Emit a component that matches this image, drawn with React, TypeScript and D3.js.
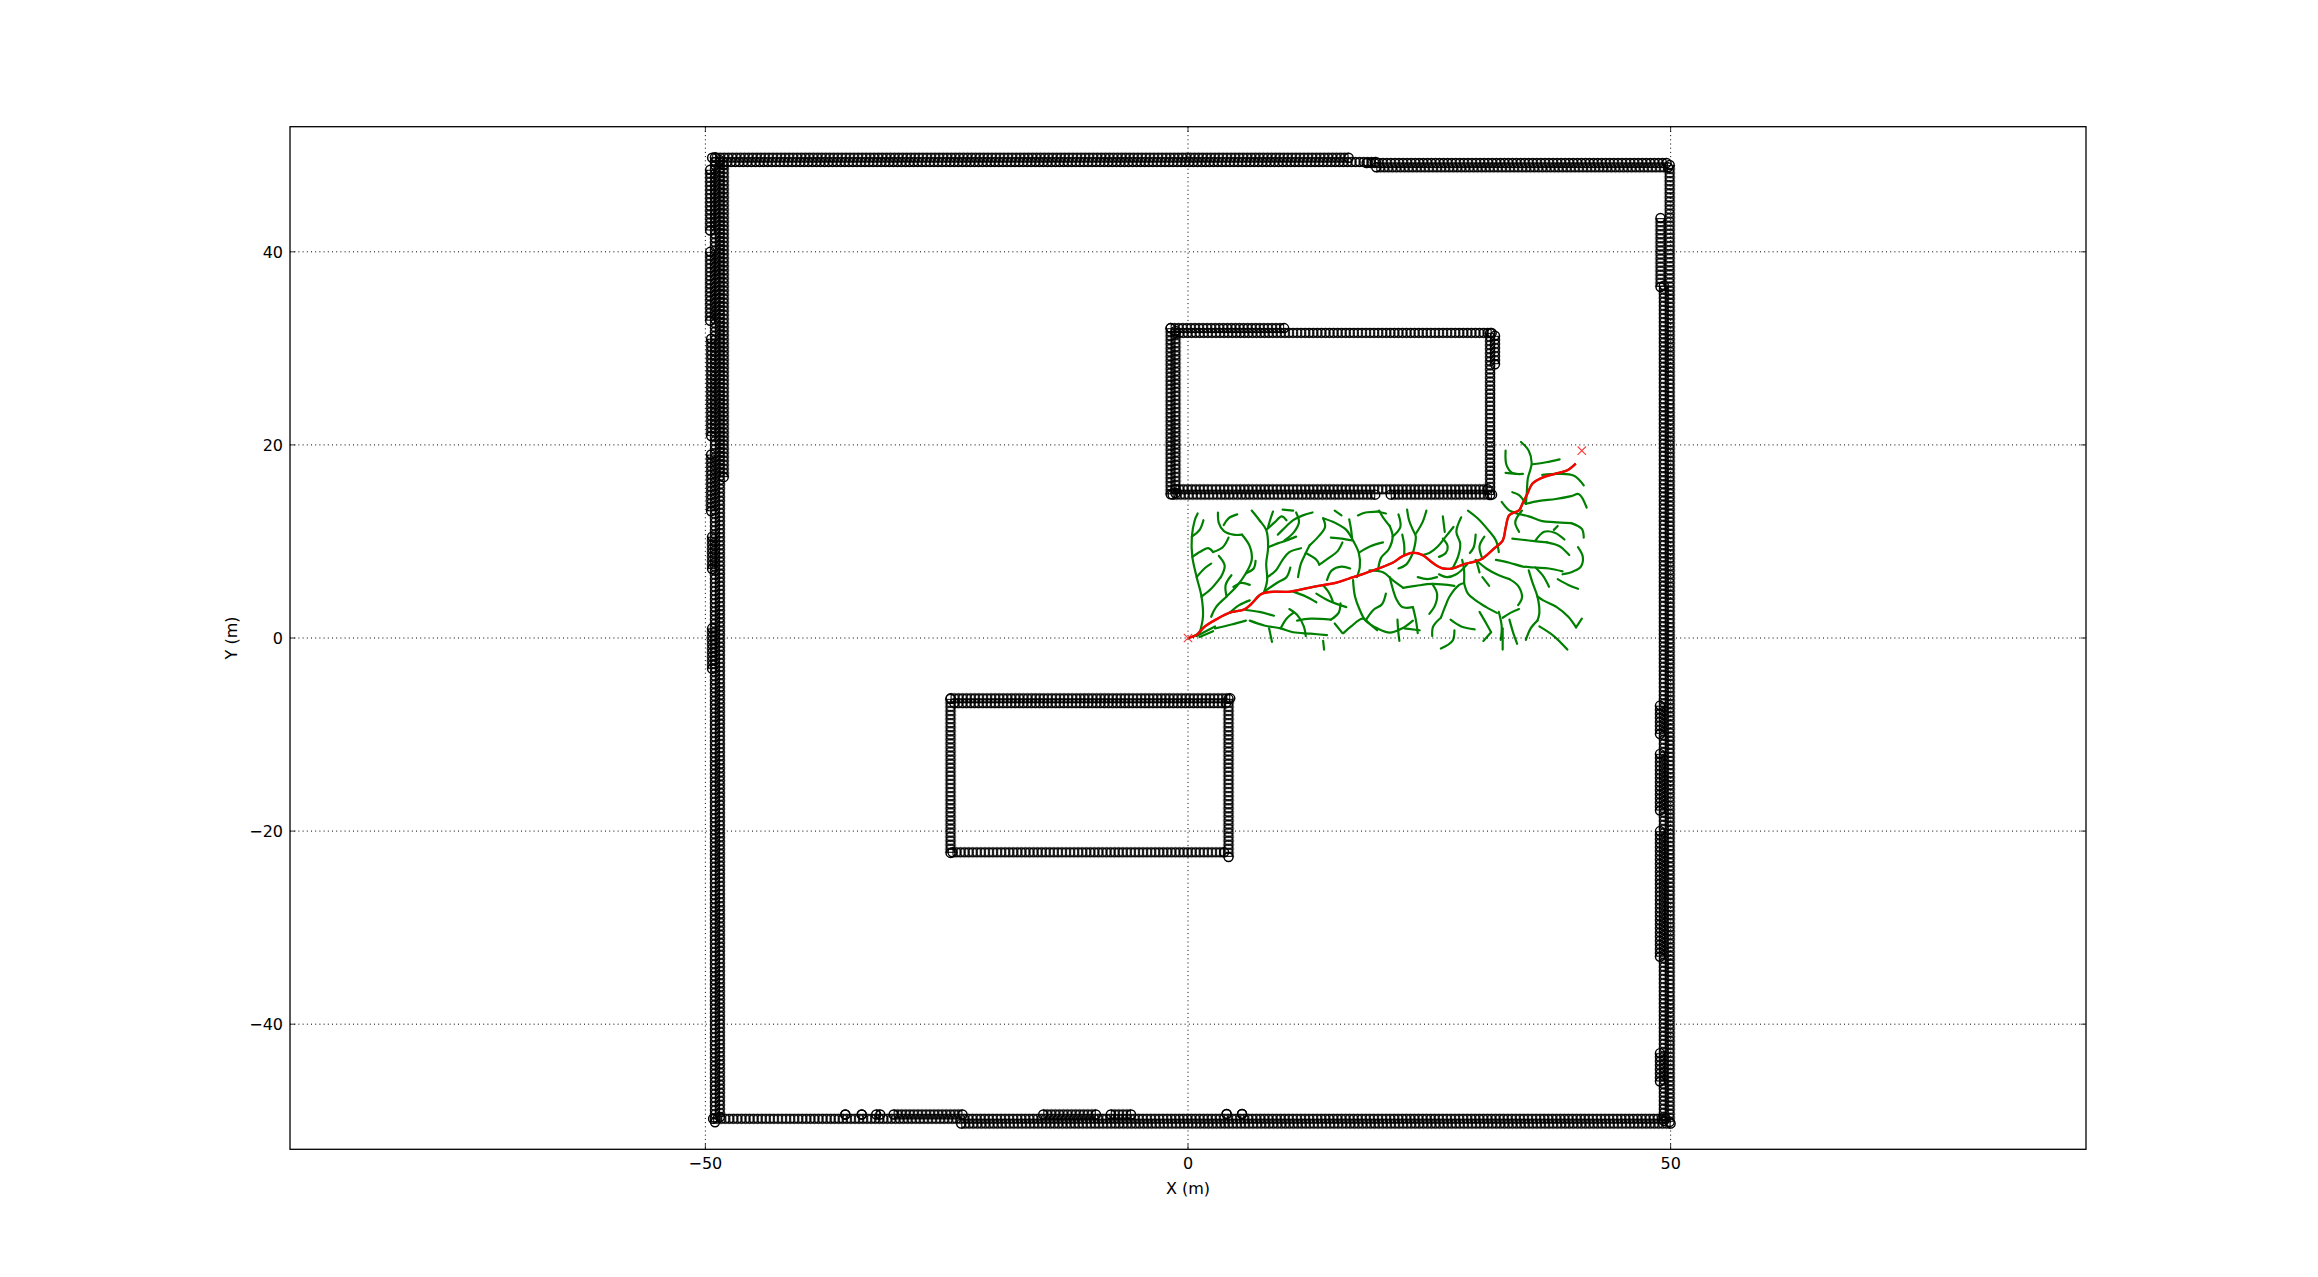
import React from 'react';
import * as d3 from 'd3';

const width = 2318;
const height = 1277;
const plot = { left: 290, right: 2086, top: 126.7, bottom: 1149.3 };

const xDomain = [-93.03, 93.03];
const yDomain = [-52.96, 52.96];
const xTicks = [-50, 0, 50];
const yTicks = [-40, -20, 0, 20, 40];

// obstacle rows of circle markers: [y, xStart, xEnd]
const outerRows = [
  [49.75, -49.3, 16.5],
  [49.3, -49.0, 19.6],
  [49.2, 18.5, 49.5],
  [48.75, 19.5, 49.6],
  [-49.8, -49.2, 49.3],
  [-50.3, -23.5, 49.8],
  [-49.35, -35.5, -35.5],
  [-49.35, -33.8, -33.8],
  [-49.35, -32.3, -31.8],
  [-49.35, -30.5, -23.5],
  [-49.35, -15.0, -9.5],
  [-49.35, -8.0, -6.0],
  [-49.3, 4.0, 4.0],
  [-49.3, 5.6, 5.6],
];
// obstacle columns of circle markers: [x, yStart, yEnd]
const outerCols = [
  [-48.5, -49.8, 49.5],
  [-49.0, -50.0, 49.8],
  [-48.1, 16.5, 49.0],
  [-49.5, 42, 48.5],
  [-49.5, 33, 40],
  [-49.4, 21, 31],
  [-49.4, 13, 19],
  [-49.3, 7, 10.5],
  [-49.3, -3, 1],
  [49.9, -50.3, 49.0],
  [49.3, -50.0, 36.5],
  [48.95, 36.5, 43.5],
  [48.9, -46, -43],
  [48.9, -33, -20],
  [48.9, -18, -12],
  [48.9, -10, -7],
];
const upperBlockRows = [
  [32.1, -1.8, 10.0],
  [31.6, -1.3, 31.3],
  [15.4, -1.3, 31.2],
  [14.85, -1.6, 19.3],
  [14.85, 21.0, 31.4],
];
const upperBlockCols = [
  [-1.8, 14.9, 32.1],
  [-1.3, 15.0, 31.8],
  [31.3, 14.8, 31.6],
  [31.8, 28.2, 31.3],
];
const lowerBlockRows = [
  [-6.25, -24.6, 4.2],
  [-6.75, -24.2, 4.0],
  [-22.2, -24.4, 3.8],
];
const lowerBlockCols = [
  [-24.6, -22.2, -6.3],
  [4.2, -22.7, -6.3],
];

const startPoint = [0, 0];
const goalPoint = [40.8, 19.4];

const pathPoints = [
  [0, 0], [0.86, 0.31], [1.72, 1.17], [2.93, 1.93], [4.31, 2.62], [5.86, 2.97],
  [6.55, 3.52], [7.59, 4.55], [8.79, 4.79], [10.52, 4.79], [12.24, 5.14], [13.97, 5.48],
  [15.34, 5.72], [16.72, 6.17], [18.1, 6.62], [19.48, 7.1], [21.2, 7.79], [22.24, 8.48],
  [23.28, 8.83], [24.31, 8.59], [25.34, 7.79], [26.38, 7.21], [27.41, 7.21], [28.62, 7.66],
  [29.66, 7.9], [30.52, 8.24], [31.72, 9.28], [32.59, 10.07], [32.93, 11.52], [33.28, 12.72],
  [34.31, 13.24], [34.66, 13.93], [35.17, 14.97], [35.69, 16.0], [36.72, 16.62], [38.1, 17.03],
  [39.31, 17.38], [40.17, 18.07],
];

const treeBranches = [
  [[1.2, 0.5], [1.55, 2.2], [1.4, 4.3], [0.9, 6.3], [0.45, 8.4], [0.4, 10.5], [0.7, 12.2], [1.0, 12.9]],
  [[1.4, 4.3], [2.4, 5.1], [3.4, 6.3]],
  [[0.9, 6.3], [1.7, 7.2], [2.4, 7.7]],
  [[0.45, 8.4], [1.2, 8.9], [2.1, 9.3], [2.6, 8.9]],
  [[3.1, 13.0], [3.2, 11.9], [3.7, 11.1], [4.7, 10.7], [5.6, 10.7]],
  [[5.1, 12.8], [4.2, 12.4], [3.7, 11.7]],
  [[5.6, 10.7], [6.4, 9.5], [6.6, 8.1], [6.0, 6.7], [5.0, 5.3], [4.0, 4.3], [2.9, 3.2], [2.4, 2.2]],
  [[4.7, 5.3], [5.5, 5.7], [6.4, 5.5]],
  [[6.6, 13.2], [7.4, 12.2], [8.1, 11.2], [8.3, 9.4], [8.1, 7.7], [8.2, 6.0], [7.9, 4.8]],
  [[8.1, 11.2], [9.0, 12.0], [9.7, 12.6], [10.2, 12.2]],
  [[8.3, 9.4], [9.3, 9.8], [10.2, 10.1], [11.2, 10.5]],
  [[8.2, 6.3], [9.1, 7.0], [9.8, 8.1], [10.5, 8.9], [11.7, 9.3]],
  [[8.8, 13.1], [8.5, 12.2], [8.3, 11.5]],
  [[9.8, 13.3], [10.9, 13.2]],
  [[12.9, 13.0], [11.9, 12.7], [10.9, 12.2], [9.8, 11.2], [9.3, 10.7]],
  [[12.2, 8.8], [13.3, 8.1], [13.6, 7.6]],
  [[11.4, 6.3], [11.7, 7.7], [12.2, 8.8], [12.6, 9.6]],
  [[14.0, 12.4], [15.3, 11.9], [16.4, 11.2], [17.1, 10.1], [17.7, 8.8], [17.8, 7.4], [17.5, 6.3]],
  [[16.7, 12.3], [16.9, 11.2], [17.0, 10.3]],
  [[14.8, 10.4], [15.9, 10.3], [17.0, 10.1]],
  [[17.6, 12.7], [18.4, 13.0], [19.6, 13.1]],
  [[17.8, 8.9], [18.9, 9.5], [20.2, 9.9]],
  [[15.2, 13.2], [15.9, 12.7]],
  [[22.7, 13.3], [22.9, 12.2], [23.3, 11.2], [23.6, 10.5], [23.3, 8.8]],
  [[24.7, 13.2], [24.3, 12.0], [23.6, 10.8]],
  [[22.2, 10.7], [22.4, 9.6], [22.4, 8.6]],
  [[26.4, 12.6], [26.6, 11.0]],
  [[27.5, 11.5], [26.7, 10.5], [25.9, 9.5], [25.0, 8.8], [24.3, 8.6]],
  [[26.4, 10.3], [26.9, 9.5], [26.7, 8.8], [26.0, 8.4]],
  [[34.5, 20.3], [35.3, 19.4], [35.6, 18.1], [35.2, 16.5], [35.1, 15.1], [35.0, 13.9]],
  [[32.9, 19.4], [33.0, 17.9], [33.6, 17.1], [34.7, 17.0]],
  [[32.9, 17.1], [34.0, 17.0]],
  [[35.7, 18.0], [37.1, 18.2], [38.5, 18.5]],
  [[36.7, 16.9], [38.4, 17.0], [40.0, 16.8], [41.0, 15.8]],
  [[32.5, 14.1], [33.3, 13.2], [34.0, 13.0]],
  [[35.0, 13.9], [36.4, 14.2], [38.1, 14.4], [39.7, 14.7], [40.5, 14.9], [41.3, 13.5]],
  [[34.0, 12.9], [35.3, 12.6], [36.7, 12.1], [37.9, 12.0], [39.7, 11.9]],
  [[37.9, 11.2], [38.3, 11.6]],
  [[29.0, 13.2], [30.0, 12.4], [31.0, 11.3], [31.9, 10.1], [32.2, 8.9]],
  [[29.8, 10.7], [29.6, 9.4], [29.2, 8.8]],
  [[33.6, 10.3], [35.3, 10.1], [37.2, 9.9]],
  [[40.4, 9.4], [40.9, 8.4], [40.7, 7.4], [39.9, 6.9], [38.8, 6.6]],
  [[31.9, 8.1], [33.3, 7.8], [34.7, 7.4], [36.0, 7.3], [37.4, 7.2], [38.8, 6.9]],
  [[35.3, 7.0], [35.7, 5.7], [36.2, 4.3], [36.4, 2.6], [36.2, 1.8]],
  [[36.2, 4.3], [36.8, 3.9], [38.2, 3.2], [39.4, 2.2], [40.2, 1.1]],
  [[36.4, 1.2], [37.9, 0.2], [39.3, -1.2]],
  [[38.3, 6.1], [39.4, 5.5], [40.4, 5.1]],
  [[29.8, 8.1], [30.9, 7.2], [32.2, 6.5], [33.3, 6.1]],
  [[28.6, 5.7], [29.0, 4.6], [29.8, 3.9], [30.9, 3.2], [32.0, 2.6]],
  [[30.2, 2.7], [30.9, 1.5], [31.4, 0.6]],
  [[32.2, 2.7], [32.5, 1.2], [32.4, -0.2]],
  [[33.3, 1.9], [33.7, 0.5], [34.1, -0.6]],
  [[32.6, 2.1], [33.4, 2.6], [34.3, 3.0]],
  [[27.2, 1.9], [28.3, 1.2], [29.7, 0.9]],
  [[27.6, 0.8], [27.4, -0.3], [26.2, -1.1]],
  [[26.2, 2.1], [26.7, 3.4], [27.1, 4.3], [28.1, 5.5], [28.6, 5.7]],
  [[28.4, 8.1], [28.6, 7.0], [28.6, 5.7]],
  [[30.5, 6.3], [31.2, 5.4]],
  [[32.6, 1.0], [32.6, -1.2]],
  [[17.1, 6.0], [17.3, 4.3], [17.8, 2.9], [18.4, 1.8], [19.6, 1.0], [20.9, 0.55], [22.2, 1.0], [23.3, 1.8]],
  [[16.1, 0.5], [16.9, 1.2], [18.1, 2.0], [19.0, 1.3], [19.6, 0.8]],
  [[18.8, 7.0], [20.2, 6.8], [21.2, 6.0], [22.3, 5.2]],
  [[22.3, 5.2], [23.6, 5.4], [25.3, 5.6], [27.6, 5.4]],
  [[23.3, 3.2], [23.6, 1.9], [23.8, 0.5]],
  [[21.7, 1.9], [21.8, 0.5], [21.9, -0.3]],
  [[22.4, 1.0], [24.0, 0.8]],
  [[23.8, 6.3], [24.8, 6.1], [25.8, 6.3]],
  [[20.9, 6.3], [21.6, 4.0], [22.2, 3.2], [23.3, 3.2]],
  [[6.0, 2.9], [7.4, 2.7], [8.9, 2.3]],
  [[6.4, 1.8], [7.9, 1.3], [9.6, 1.0], [10.9, 0.6], [12.7, 0.45], [14.4, 0.3]],
  [[11.3, 1.8], [12.7, 2.0], [14.8, 1.9]],
  [[8.4, 1.0], [8.7, -0.4]],
  [[14.0, -0.3], [14.1, -1.2]],
  [[13.3, 4.6], [14.7, 3.8], [16.4, 3.2]],
  [[10.9, 4.8], [12.2, 4.3], [13.3, 3.7]],
  [[15.2, 1.5], [16.0, 0.5]],
  [[2.8, 1.0], [4.5, 1.4], [6.0, 1.8]],
  [[0.9, 0.2], [2.8, 1.2]],
  [[1.2, 0.1], [2.6, 0.7]],
  [[4.3, 2.6], [5.3, 3.4], [6.4, 3.9]],
  [[10.0, 10.1], [11.0, 11.0], [11.5, 12.0], [11.2, 13.0]],
  [[12.6, 9.6], [13.5, 10.5], [14.2, 11.5], [14.0, 12.4]],
  [[13.6, 7.6], [14.6, 8.3], [15.5, 9.0], [16.0, 9.9]],
  [[14.4, 6.0], [14.9, 7.0], [15.9, 7.4], [16.8, 7.2]],
  [[19.7, 7.1], [20.0, 8.3], [20.8, 9.2], [21.2, 10.5], [20.9, 11.6]],
  [[20.9, 11.6], [20.2, 12.5], [19.8, 13.2]],
  [[21.2, 10.5], [22.0, 11.5], [21.8, 12.8]],
  [[27.4, 7.2], [28.0, 8.5], [28.2, 9.8], [27.8, 11.0], [28.3, 12.5]],
  [[30.5, 8.2], [30.2, 9.5], [30.7, 10.5]],
  [[36.0, 10.1], [36.9, 11.0], [38.0, 10.9], [39.0, 10.2]],
  [[37.2, 9.9], [38.5, 9.5], [39.5, 8.6]],
  [[39.7, 11.9], [40.8, 11.3], [41.0, 10.4]],
  [[36.0, 7.3], [36.8, 6.4], [37.4, 5.3]],
  [[33.3, 6.1], [34.2, 5.4], [34.6, 4.2], [34.2, 3.4]],
  [[18.4, 1.8], [19.2, 2.9], [20.1, 3.5], [20.5, 4.6]],
  [[14.8, 1.9], [15.6, 2.6], [15.8, 3.6]],
  [[10.5, 3.0], [11.3, 2.4], [12.0, 1.2], [12.2, 0.2]],
  [[9.6, 1.0], [10.2, 2.0], [10.9, 2.6]],
  [[3.4, 6.3], [3.8, 7.5], [3.2, 8.5]],
  [[2.6, 8.9], [3.6, 9.4], [4.2, 10.4]],
  [[0.4, 10.5], [1.2, 11.2], [1.6, 12.2]],
  [[6.0, 6.7], [6.8, 7.2], [7.0, 8.0]],
  [[4.0, 4.3], [3.9, 5.5], [4.5, 6.5]],
  [[25.3, 5.6], [25.8, 4.6], [25.6, 3.4], [25.0, 2.5]],
  [[23.3, 8.8], [22.6, 7.6], [21.8, 7.2]],
  [[29.9, 7.9], [30.2, 6.8]],
  [[28.9, 7.6], [27.8, 6.6], [26.8, 6.3], [26.0, 6.6]],
  [[35.0, 13.9], [34.3, 14.8], [33.6, 15.1]],
  [[34.6, 13.2], [33.9, 12.0], [34.3, 11.0]],
  [[40.2, 1.1], [40.8, 2.0]],
  [[36.2, 1.8], [35.5, 1.0], [35.0, -0.2]],
  [[31.4, 0.6], [30.6, -0.3]],
  [[26.2, 2.1], [25.4, 1.2], [25.3, 0.2]],
  [[19.6, 13.1], [20.5, 12.9]],
  [[13.97, 5.48], [14.6, 4.7], [15.0, 3.8]],
  [[7.9, 4.8], [9.2, 5.7], [10.2, 6.3], [10.6, 7.3]],
];

const pitch = 0.42;
const ringR = 4.5;
const ringW = 1.45;
const band = 2 * (ringR + ringW) + 2;

export default function App() {
  const xs = d3.scaleLinear().domain(xDomain).range([plot.left, plot.right]);
  const ys = d3.scaleLinear().domain(yDomain).range([plot.bottom, plot.top]);
  const line = d3
    .line<number[]>()
    .x(d => xs(d[0]))
    .y(d => ys(d[1]))
    .curve(d3.curveCatmullRom.alpha(0.5));

  const rows = [...outerRows, ...upperBlockRows, ...lowerBlockRows];
  const cols = [...outerCols, ...upperBlockCols, ...lowerBlockCols];
  const offsets = [-2, -1, 0, 1, 2];

  const patterns: React.ReactNode[] = [];
  const runs: React.ReactNode[] = [];

  rows.forEach(([y, a, b], i) => {
    const cx0 = xs(Math.min(a, b));
    const p = xs(pitch) - xs(0);
    const n = Math.round((xs(Math.max(a, b)) - cx0) / p);
    const cy = ys(y);
    const id = `row${i}`;
    patterns.push(
      <pattern key={id} id={id} patternUnits="userSpaceOnUse" x={cx0 - p / 2} y={cy - band / 2} width={p} height={band}>
        {offsets.map(k => (
          <circle key={k} cx={p / 2 + k * p} cy={band / 2} r={ringR} fill="none" stroke="#000" strokeWidth={ringW} />
        ))}
      </pattern>
    );
    runs.push(
      <g key={id}>
        {n > 0 && <rect x={cx0} y={cy - band / 2} width={n * p} height={band} fill={`url(#${id})`} />}
        <circle cx={cx0} cy={cy} r={ringR} fill="none" stroke="#000" strokeWidth={ringW} />
        <circle cx={cx0 + n * p} cy={cy} r={ringR} fill="none" stroke="#000" strokeWidth={ringW} />
      </g>
    );
  });

  cols.forEach(([x, a, b], i) => {
    const top = ys(Math.max(a, b));
    const q = ys(0) - ys(pitch);
    const n = Math.round((ys(Math.min(a, b)) - top) / q);
    const cx = xs(x);
    const id = `col${i}`;
    patterns.push(
      <pattern key={id} id={id} patternUnits="userSpaceOnUse" x={cx - band / 2} y={top - q / 2} width={band} height={q}>
        {offsets.map(k => (
          <circle key={k} cx={band / 2} cy={q / 2 + k * q} r={ringR} fill="none" stroke="#000" strokeWidth={ringW} />
        ))}
      </pattern>
    );
    runs.push(
      <g key={id}>
        {n > 0 && <rect x={cx - band / 2} y={top} width={band} height={n * q} fill={`url(#${id})`} />}
        <circle cx={cx} cy={top} r={ringR} fill="none" stroke="#000" strokeWidth={ringW} />
        <circle cx={cx} cy={top + n * q} r={ringR} fill="none" stroke="#000" strokeWidth={ringW} />
      </g>
    );
  });

  const cross = (pt: number[], key: string) => {
    const cx = xs(pt[0]);
    const cy = ys(pt[1]);
    const s = 4.2;
    return (
      <path
        key={key}
        d={`M${cx - s},${cy - s}L${cx + s},${cy + s}M${cx - s},${cy + s}L${cx + s},${cy - s}`}
        stroke="#ff3b3b"
        strokeWidth={1.1}
        fill="none"
      />
    );
  };

  const fmt = (v: number) => (v < 0 ? `\u2212${Math.abs(v)}` : `${v}`);
  const font = '"DejaVu Sans", sans-serif';

  return (
    <svg
      width={width}
      height={height}
      style={{ position: 'absolute', left: 0, top: 0, background: '#fff' }}
      fontFamily={font}
    >
      <defs>
        <clipPath id="plotClip">
          <rect x={plot.left} y={plot.top} width={plot.right - plot.left} height={plot.bottom - plot.top} />
        </clipPath>
        {patterns}
      </defs>
      <rect x={0} y={0} width={width} height={height} fill="#fff" />

      <g clipPath="url(#plotClip)">
        {runs}

        {treeBranches.map((b, i) => (
          <path key={i} d={line(b) || ''} fill="none" stroke="#008000" strokeWidth={2.2} strokeLinecap="round" />
        ))}
        <path d={line(pathPoints) || ''} fill="none" stroke="#008000" strokeWidth={2.2} />
        <path d={line(pathPoints) || ''} fill="none" stroke="#ff0000" strokeWidth={2.4} strokeLinejoin="round" />

        {cross(startPoint, 'start')}
        {cross(goalPoint, 'goal')}

        {xTicks.map(t => (
          <line key={`gx${t}`} x1={xs(t)} x2={xs(t)} y1={plot.top} y2={plot.bottom} stroke="#000" strokeWidth={1} strokeDasharray="1,3.2" />
        ))}
        {yTicks.map(t => (
          <line key={`gy${t}`} x1={plot.left} x2={plot.right} y1={ys(t)} y2={ys(t)} stroke="#000" strokeWidth={1} strokeDasharray="1,3.2" />
        ))}
      </g>

      {xTicks.map(t => (
        <g key={`tx${t}`}>
          <line x1={xs(t)} x2={xs(t)} y1={plot.bottom} y2={plot.bottom - 5.3} stroke="#000" strokeWidth={0.8} />
          <line x1={xs(t)} x2={xs(t)} y1={plot.top} y2={plot.top + 5.3} stroke="#000" strokeWidth={0.8} />
          <text x={xs(t)} y={1169} textAnchor="middle" fontSize={16} fill="#000">
            {fmt(t)}
          </text>
        </g>
      ))}
      {yTicks.map(t => (
        <g key={`ty${t}`}>
          <line x1={plot.left} x2={plot.left + 5.3} y1={ys(t)} y2={ys(t)} stroke="#000" strokeWidth={0.8} />
          <line x1={plot.right} x2={plot.right - 5.3} y1={ys(t)} y2={ys(t)} stroke="#000" strokeWidth={0.8} />
          <text x={283} y={ys(t) + 5.8} textAnchor="end" fontSize={16} fill="#000">
            {fmt(t)}
          </text>
        </g>
      ))}

      <rect
        x={plot.left}
        y={plot.top}
        width={plot.right - plot.left}
        height={plot.bottom - plot.top}
        fill="none"
        stroke="#000"
        strokeWidth={1.3}
      />

      <text x={1188} y={1194} textAnchor="middle" fontSize={16} fill="#000">
        X (m)
      </text>
      <text transform="translate(237,638) rotate(-90)" textAnchor="middle" fontSize={16} fill="#000">
        Y (m)
      </text>
    </svg>
  );
}
